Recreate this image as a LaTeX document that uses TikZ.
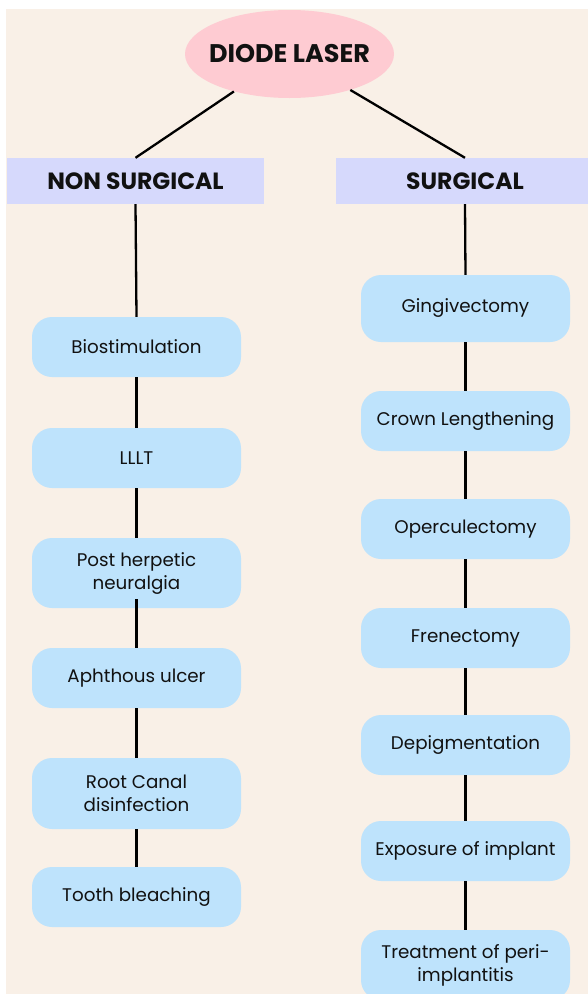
\documentclass[tikz,border=0pt]{standalone}
\usepackage{fontspec}
\setmainfont{Poppins}
\usetikzlibrary{shapes.geometric}
\definecolor{bg}{HTML}{F9F0E7}
\definecolor{pinkfill}{HTML}{FECBD2}
\definecolor{lav}{HTML}{D6D9FC}
\definecolor{itemblue}{HTML}{BEE3FC}
\definecolor{txt}{HTML}{111111}
\begin{document}
\begin{tikzpicture}[x=1pt,y=-1pt,
  item/.style={rectangle, rounded corners=20pt, fill=itemblue, minimum width=209pt,
    minimum height=60pt, inner sep=0pt, align=center, text=txt,
    font=\fontsize{18.3}{23}\selectfont},
  header/.style={rectangle, fill=lav, minimum height=46pt, inner sep=0pt, text=txt,
    font=\fontsize{23.5}{28}\selectfont\bfseries},
  conn/.style={draw=black, line width=2.3pt}]
\useasboundingbox (0,0) rectangle (588,994);
\fill[white] (0,0) rectangle (588,994);
\fill[bg] (6,9) rectangle (588,994);

\node[ellipse, fill=pinkfill, minimum width=209pt, minimum height=88pt,
  inner xsep=-30pt, inner ysep=0pt,
  text=txt, font=\fontsize{25.5}{28}\selectfont\bfseries] (diode) at (289.5,54) {DIODE LASER};
\node[header, minimum width=257pt] (nons) at (135.5,181) {NON SURGICAL};
\node[header, minimum width=258pt] (surg) at (465,181) {SURGICAL};

\node[item] (b1) at (136.5,347) {Biostimulation};
\node[item] (b2) at (136.5,458) {LLLT};
\node[item, minimum height=70pt] (b3) at (136.5,573) {Post herpetic\\neuralgia};
\node[item] (b4) at (136.5,678) {Aphthous ulcer};
\node[item, minimum height=71pt] (b5) at (136.5,793.5) {Root Canal\\disinfection};
\node[item] (b6) at (136.5,897) {Tooth bleaching};

\node[item, minimum height=67pt] (s1) at (465.5,308.5) {Gingivectomy};
\node[item] (s2) at (465.5,421) {Crown Lengthening};
\node[item] (s3) at (465.5,529) {Operculectomy};
\node[item] (s4) at (465.5,638) {Frenectomy};
\node[item] (s5) at (465.5,745) {Depigmentation};
\node[item] (s6) at (465.5,851) {Exposure of implant};
\node[item, minimum height=70pt] (s7) at (465.5,965) {Treatment of peri-\\implantitis};

\draw[conn] (diode) -- (nons.north);
\draw[conn] (diode) -- (surg.north);
\draw[conn] (nons.south) -- (b1.north);
\draw[conn] (b1) -- (b2);
\draw[conn] (b2) -- (b3);
\draw[conn] ([yshift=9pt]b3.south) -- (b4.north);
\draw[conn] (b4) -- (b5);
\draw[conn] (b5) -- (b6);
\draw[conn] (surg.south) -- (s1.north);
\draw[conn] (s1) -- (s2);
\draw[conn] (s2) -- (s3);
\draw[conn] (s3) -- (s4);
\draw[conn] (s4) -- (s5);
\draw[conn] (s5) -- (s6);
\draw[conn] (s6) -- (s7);
\end{tikzpicture}
\end{document}
